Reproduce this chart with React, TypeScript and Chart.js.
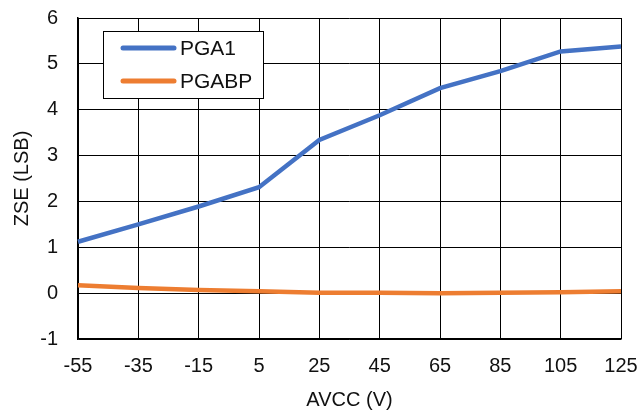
import React, { useEffect, useRef } from "react";
import { Chart, registerables } from "chart.js";

Chart.register(...registerables);

const categories = ["-55", "-35", "-15", "5", "25", "45", "65", "85", "105", "125"];
const pga1 = [1.12, 1.5, 1.89, 2.31, 3.34, 3.88, 4.47, 4.84, 5.27, 5.38];
const pgabp = [0.17, 0.11, 0.07, 0.04, 0.01, 0.01, 0.0, 0.01, 0.02, 0.04];
const yTickMin = -1;
const yTickMax = 6;
const FONT = "'Liberation Sans', Arial, sans-serif";
const FS = 20;

const legendPlugin = {
  id: "boxLegend",
  afterDraw(chart: any) {
    const ctx = chart.ctx;
    const a = chart.chartArea;
    const x = a.left + 25;
    const y = a.top + 13;
    const w = 160;
    const h = 67;
    ctx.save();
    ctx.fillStyle = "#fff";
    ctx.fillRect(x, y, w, h);
    ctx.strokeStyle = "#000";
    ctx.lineWidth = 1;
    ctx.strokeRect(x + 0.5, y + 0.5, w, h);
    ctx.font = `21px ${FONT}`;
    ctx.textBaseline = "middle";
    chart.data.datasets.forEach((ds: any, i: number) => {
      const ly = y + 17 + i * 33;
      ctx.strokeStyle = ds.borderColor;
      ctx.lineWidth = 5;
      ctx.lineCap = "round";
      ctx.beginPath();
      ctx.moveTo(x + 20, ly);
      ctx.lineTo(x + 71, ly);
      ctx.stroke();
      ctx.fillStyle = "#111";
      ctx.fillText(ds.label, x + 77, ly + 1);
    });
    ctx.restore();
  },
};

export default function App() {
  const ref = useRef<HTMLCanvasElement | null>(null);
  useEffect(() => {
    document.body.style.margin = "0";
    const chart = new Chart(ref.current as HTMLCanvasElement, {
      type: "line",
      data: {
        labels: categories,
        datasets: [
          {
            label: "PGA1",
            data: pga1,
            borderColor: "#4472C4",
            borderWidth: 4.5,
            pointRadius: 0,
            tension: 0,
          },
          {
            label: "PGABP",
            data: pgabp,
            borderColor: "#ED7D31",
            borderWidth: 4.5,
            pointRadius: 0,
            tension: 0,
          },
        ],
      },
      options: {
        responsive: false,
        animation: false,
        layout: { padding: { left: 0, top: 18, right: 18, bottom: 0 } },
        plugins: { legend: { display: false }, tooltip: { enabled: false } },
        scales: {
          x: {
            offset: false,
            grid: { color: "#000", lineWidth: 1, drawTicks: false },
            border: { color: "#000", width: 1.5 },
            ticks: { color: "#111", font: { family: FONT, size: FS }, padding: 15, maxRotation: 0, autoSkip: false },
            title: { display: true, text: "AVCC (V)", color: "#111", font: { family: FONT, size: FS }, padding: { top: 4, bottom: 0 } },
            afterFit(scale: any) {
              scale.height = 73;
              scale.paddingLeft = 0;
              scale.paddingRight = 0;
            },
          },
          y: {
            min: yTickMin,
            max: yTickMax,
            ticks: { stepSize: 1, color: "#111", font: { family: FONT, size: FS }, padding: 20 },
            grid: { color: "#000", lineWidth: 1, drawTicks: false },
            border: { color: "#000", width: 1.5 },
            title: { display: true, text: "ZSE (LSB)", color: "#111", font: { family: FONT, size: FS }, padding: { top: 10, bottom: 0 } },
            afterFit(scale: any) {
              scale.width = 78;
              scale.paddingTop = 0;
              scale.paddingBottom = 0;
            },
          },
        },
      },
      plugins: [legendPlugin],
    });
    return () => chart.destroy();
  }, []);
  return (
    <div style={{ width: 639, height: 412 }}>
      <canvas ref={ref} width={639} height={412} />
    </div>
  );
}
